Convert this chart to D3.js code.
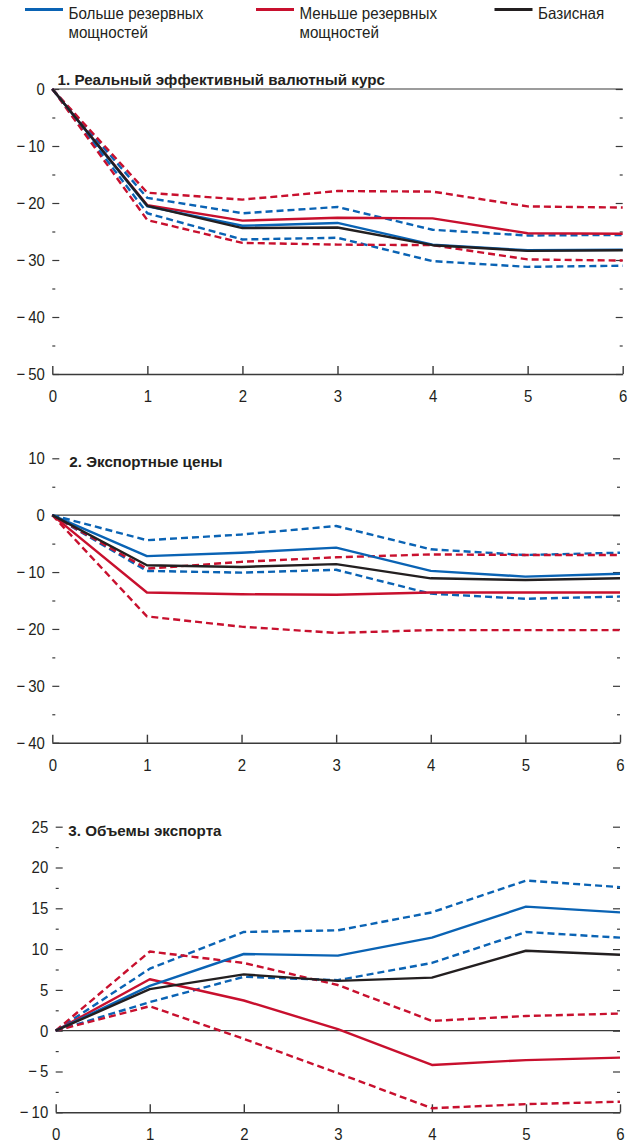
<!DOCTYPE html>
<html>
<head>
<meta charset="utf-8">
<script src="https://cdn.jsdelivr.net/npm/d3@7"></script>
<style>
  html, body { margin: 0; padding: 0; background: #fff; }
  svg { display: block; }
  text { font-family: 'Liberation Sans', Arial, sans-serif; fill: #231f20; }
</style>
</head>
<body>
<svg id="chart" width="637" height="1143"></svg>
<script>
// Horizon (years after the shock)
const years = [0, 1, 2, 3, 4, 5, 6];

// 1. Real effective exchange rate
const reerMore   = [0, -20.6, -24.0, -23.5, -27.3, -28.3, -28.2];
const reerMoreHi = [0, -19.1, -21.8, -20.7, -24.7, -25.7, -25.6];
const reerMoreLo = [0, -21.8, -26.4, -26.1, -30.2, -31.2, -31.0];
const reerLess   = [0, -20.4, -23.1, -22.6, -22.7, -25.3, -25.4];
const reerLessHi = [0, -18.2, -19.4, -17.9, -18.0, -20.6, -20.8];
const reerLessLo = [0, -23.0, -27.0, -27.3, -27.4, -29.9, -30.1];
const reerBase   = [0, -20.5, -24.4, -24.3, -27.4, -28.4, -28.3];

// 2. Export prices
const pxMore   = [0, -7.2, -6.6, -5.7, -9.8, -10.8, -10.3];
const pxMoreHi = [0, -4.4, -3.4, -1.9, -6.0, -7.0, -6.6];
const pxMoreLo = [0, -9.8, -10.1, -9.6, -13.8, -14.7, -14.3];
const pxLess   = [0, -13.6, -13.9, -14.0, -13.6, -13.6, -13.6];
const pxLessHi = [0, -9.4, -8.2, -7.4, -6.9, -7.0, -7.0];
const pxLessLo = [0, -17.8, -19.6, -20.7, -20.2, -20.2, -20.2];
const pxBase   = [0, -8.8, -9.1, -8.6, -11.1, -11.4, -11.1];

// 3. Export volumes
const volMore   = [0, 5.5, 9.4, 9.2, 11.4, 15.2, 14.5];
const volMoreHi = [0, 7.6, 12.1, 12.3, 14.5, 18.4, 17.6];
const volMoreLo = [0, 3.5, 6.6, 6.2, 8.3, 12.1, 11.4];
const volLess   = [0, 6.3, 3.7, 0.2, -4.2, -3.6, -3.3];
const volLessHi = [0, 9.7, 8.3, 5.6, 1.2, 1.8, 2.1];
const volLessLo = [0, 3.0, -1.0, -5.2, -9.5, -9.0, -8.7];
const volBase   = [0, 5.1, 6.9, 6.1, 6.5, 9.8, 9.3];

// Legend entries
const legendLabels = [
  ["Больше резервных", "мощностей"],
  ["Меньше резервных", "мощностей"],
  ["Базисная"]
];

// Panel titles
const panelTitles = [
  "1.  Реальный эффективный валютный курс",
  "2. Экспортные цены",
  "3.  Объемы экспорта"
];

// Y axis ticks per panel
const yTicks1 = [0, -10, -20, -30, -40, -50];
const yMinor1 = [-5, -15, -25, -35, -45];
const yTicks2 = [10, 0, -10, -20, -30, -40];
const yMinor2 = [5, -5, -15, -25, -35];
const yTicks3 = [25, 20, 15, 10, 5, 0, -5, -10];
const yMinor3 = [22.5, 17.5, 12.5, 7.5, 2.5, -2.5, -7.5];

const COL_MORE = "#0a63b4";
const COL_LESS = "#c8102e";
const COL_BASE = "#231f20";
const AXIS_COL = "#3a3a3a";
const TICK_SQUEEZE = 0.88;   // horizontal squeeze of tick numerals
const LEGEND_SQUEEZE = 0.92; // horizontal squeeze of legend text

const svg = d3.select("#chart");

// Place a text label at (x, y) with an optional horizontal squeeze
function label(parent, x, y, str, size, bold, sx) {
  return parent.append("text")
    .attr("transform", `translate(${x},${y}) scale(${sx},1)`)
    .attr("font-size", size)
    .attr("font-weight", bold ? "bold" : null)
    .text(str);
}

// ---- legend ----
const legendX = [25, 256, 494.5];
legendLabels.forEach((lines, i) => {
  const g = svg.append("g").attr("transform", `translate(${legendX[i]},0)`);
  g.append("line")
    .attr("x1", 0).attr("x2", 38).attr("y1", 9.5).attr("y2", 9.5)
    .attr("stroke", [COL_MORE, COL_LESS, COL_BASE][i])
    .attr("stroke-width", 2.8);
  lines.forEach((t, j) => label(g, 43.5, 18.5 + j * 19.3, t, 16.5, false, LEGEND_SQUEEZE));
});

// Tick label formatter: minus sign with a thin gap
const fmt = v => v < 0 ? "\u2212\u2009" + Math.abs(v) : String(v);

function styleTicks(sel, width) {
  sel.select(".domain").remove();
  sel.selectAll("line").attr("stroke", AXIS_COL).attr("stroke-width", width);
}

function panel(cfg) {
  const x = d3.scaleLinear().domain([0, 6]).range([cfg.x0, cfg.x1]);
  const y = d3.scaleLinear().domain(cfg.domain).range([cfg.yTop, cfg.yBot]);
  const g = svg.append("g");

  // left axis: labels outside, ticks inside
  const left = g.append("g").attr("transform", `translate(${cfg.x0},0)`)
    .call(d3.axisLeft(y).tickValues(cfg.ticks).tickSizeInner(-7).tickSizeOuter(0)
      .tickPadding(7.5 / TICK_SQUEEZE).tickFormat(fmt));
  styleTicks(left, 1.2);
  left.selectAll("text").attr("font-size", 17).attr("font-family", null)
    .attr("fill", "#231f20").attr("transform", `scale(${TICK_SQUEEZE},1)`);

  const leftMinor = g.append("g").attr("transform", `translate(${cfg.x0},0)`)
    .call(d3.axisLeft(y).tickValues(cfg.minor).tickSizeInner(-3).tickSizeOuter(0).tickFormat(""));
  styleTicks(leftMinor, 1.2);

  // right axis: ticks only, pointing inward
  const right = g.append("g").attr("transform", `translate(${cfg.x1},0)`)
    .call(d3.axisRight(y).tickValues(cfg.ticks).tickSizeInner(-7).tickSizeOuter(0).tickFormat(""));
  styleTicks(right, 1.2);

  const rightMinor = g.append("g").attr("transform", `translate(${cfg.x1},0)`)
    .call(d3.axisRight(y).tickValues(cfg.minor).tickSizeInner(-3).tickSizeOuter(0).tickFormat(""));
  styleTicks(rightMinor, 1.2);

  // zero line
  g.append("line")
    .attr("x1", x(0)).attr("x2", x(6)).attr("y1", y(0)).attr("y2", y(0))
    .attr("stroke", AXIS_COL).attr("stroke-width", 1.2);

  // bottom axis with upward ticks
  const bottom = g.append("g").attr("transform", `translate(0,${cfg.yBot})`)
    .call(d3.axisBottom(x).tickValues(years).tickSizeInner(-8).tickSizeOuter(0)
      .tickPadding(16).tickFormat(d3.format("d")));
  bottom.select(".domain").attr("stroke", AXIS_COL).attr("stroke-width", 1.4);
  bottom.selectAll("line").attr("stroke", AXIS_COL).attr("stroke-width", 1.4);
  bottom.selectAll("text").attr("font-size", 17).attr("font-family", null)
    .attr("fill", "#231f20").attr("transform", `scale(${TICK_SQUEEZE},1)`);

  // title
  label(g, cfg.titleX, cfg.titleY, cfg.title, 15.2, true, 1);

  const line = d3.line().x((d, i) => x(years[i])).y(d => y(d));
  const series = [
    { v: cfg.moreHi, c: COL_MORE, dash: true },
    { v: cfg.moreLo, c: COL_MORE, dash: true },
    { v: cfg.lessHi, c: COL_LESS, dash: true },
    { v: cfg.lessLo, c: COL_LESS, dash: true },
    { v: cfg.less, c: COL_LESS, dash: false },
    { v: cfg.more, c: COL_MORE, dash: false },
    { v: cfg.base, c: COL_BASE, dash: false }
  ];
  g.selectAll("path.series").data(series).join("path")
    .attr("class", "series")
    .attr("d", d => line(d.v))
    .attr("fill", "none")
    .attr("stroke", d => d.c)
    .attr("stroke-width", 2.4)
    .attr("stroke-linejoin", "round")
    .attr("stroke-dasharray", d => d.dash ? "7,4" : null);
}

panel({
  x0: 52.3, x1: 622.7, domain: [0, -50], yTop: 89, yBot: 374,
  ticks: yTicks1, minor: yMinor1, title: panelTitles[0], titleX: 57.5, titleY: 85,
  more: reerMore, moreHi: reerMoreHi, moreLo: reerMoreLo,
  less: reerLess, lessHi: reerLessHi, lessLo: reerLessLo, base: reerBase
});

panel({
  x0: 52.3, x1: 620, domain: [10, -40], yTop: 458.3, yBot: 742.7,
  ticks: yTicks2, minor: yMinor2, title: panelTitles[1], titleX: 69.3, titleY: 466.5,
  more: pxMore, moreHi: pxMoreHi, moreLo: pxMoreLo,
  less: pxLess, lessHi: pxLessHi, lessLo: pxLessLo, base: pxBase
});

panel({
  x0: 55.7, x1: 620, domain: [25, -10], yTop: 826.7, yBot: 1112.3,
  ticks: yTicks3, minor: yMinor3, title: panelTitles[2], titleX: 68.3, titleY: 835.5,
  more: volMore, moreHi: volMoreHi, moreLo: volMoreLo,
  less: volLess, lessHi: volLessHi, lessLo: volLessLo, base: volBase
});
</script>
</body>
</html>
